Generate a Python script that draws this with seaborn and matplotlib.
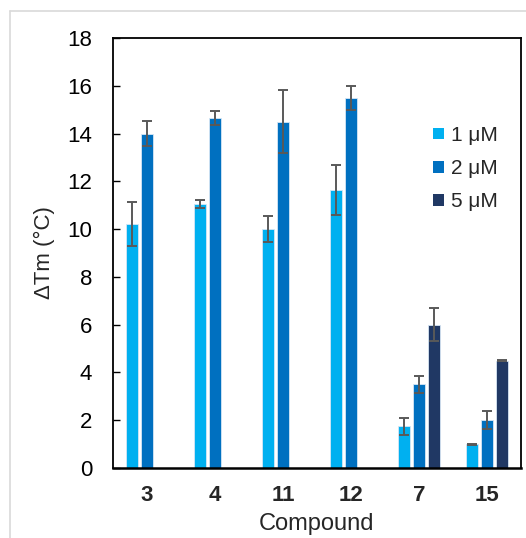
import numpy as np
import pandas as pd
import matplotlib
matplotlib.use("Agg")
import matplotlib.pyplot as plt
import seaborn as sns
from matplotlib.lines import Line2D
from matplotlib.patches import Patch

compounds = ["3", "4", "11", "12", "7", "15"]
concs = ["1 μM", "2 μM", "5 μM"]
vals_1 = [10.2, 11.05, 10.0, 11.65, 1.75, 1.0]
vals_2 = [14.0, 14.65, 14.5, 15.5, 3.5, 2.0]
vals_5 = [np.nan, np.nan, np.nan, np.nan, 6.0, 4.5]
err_1 = [0.92, 0.15, 0.55, 1.05, 0.36, 0.02]
err_2 = [0.52, 0.3, 1.33, 0.5, 0.37, 0.38]
err_5 = [np.nan, np.nan, np.nan, np.nan, 0.7, 0.02]
colors = ["#00B0F0", "#0070C0", "#203864"]

rows = []
for c, vals, errs in zip(concs, [vals_1, vals_2, vals_5], [err_1, err_2, err_5]):
    for comp, v, e in zip(compounds, vals, errs):
        rows.append({"Compound": comp, "dTm": v, "Conc": c, "err": e})
df = pd.DataFrame(rows).dropna()

sns.set_theme(style="white")
plt.rcParams["font.family"] = ["Liberation Sans", "DejaVu Sans"]

fig = plt.figure(figsize=(5.26, 5.38), dpi=100)
ax = fig.add_axes([113 / 526, 1 - 468 / 538, (521 - 113) / 526, (468 - 38) / 538])

sns.barplot(data=df, x="Compound", y="dTm", hue="Conc", order=compounds,
            hue_order=concs, palette=colors, saturation=1, width=0.667, gap=0.2,
            errorbar=None, edgecolor="#d6e6f5", linewidth=0.6,
            legend=False, ax=ax)

errs = {c: dict(zip(compounds, e)) for c, e in zip(concs, [err_1, err_2, err_5])}
for c, cont in zip(concs, ax.containers):
    xs, hs, es = [], [], []
    for p in cont.patches:
        h = p.get_height()
        if not np.isfinite(h):
            continue
        xc = p.get_x() + p.get_width() / 2
        idx = int(round(xc))
        xs.append(xc)
        hs.append(h)
        es.append(errs[c][compounds[idx]])
    ax.errorbar(xs, hs, yerr=es, fmt="none", ecolor="#595959",
                elinewidth=1.4, capsize=3.3, capthick=1.4, zorder=5)

ax.set_ylim(0, 18)
ax.set_yticks(np.arange(0, 19, 2))
ax.set_xlim(-0.5, 5.5)
ax.tick_params(axis="y", direction="in", length=5, width=1, labelsize=16,
               pad=15, left=True, colors="black")
ax.tick_params(axis="x", length=0, labelsize=16, pad=12)
for lab in ax.get_xticklabels():
    lab.set_fontweight("bold")
ax.set_xlabel("Compound", fontsize=17, labelpad=5)
ax.set_ylabel("ΔTm (°C)", fontsize=16, labelpad=9)
for s in ax.spines.values():
    s.set_visible(True)
    s.set_color("black")
    s.set_linewidth(1.3)
ax.spines["bottom"].set_linewidth(1.8)

handles = [Patch(facecolor=col, edgecolor="none") for col in colors]
ax.legend(handles, concs, loc="upper left", bbox_to_anchor=(0.765, 0.815),
          frameon=False, fontsize=15, handlelength=0.5, handleheight=0.5,
          handletextpad=0.35, labelspacing=0.68, borderaxespad=0)

fig.add_artist(Line2D([10 / 526, 1.0], [1 - 11 / 538, 1 - 11 / 538],
                      transform=fig.transFigure, color="#d9d9d9", lw=1.2))
fig.add_artist(Line2D([10 / 526, 10 / 526], [0, 1 - 11 / 538],
                      transform=fig.transFigure, color="#d9d9d9", lw=1.2))

fig.savefig("out.png", dpi=100)
